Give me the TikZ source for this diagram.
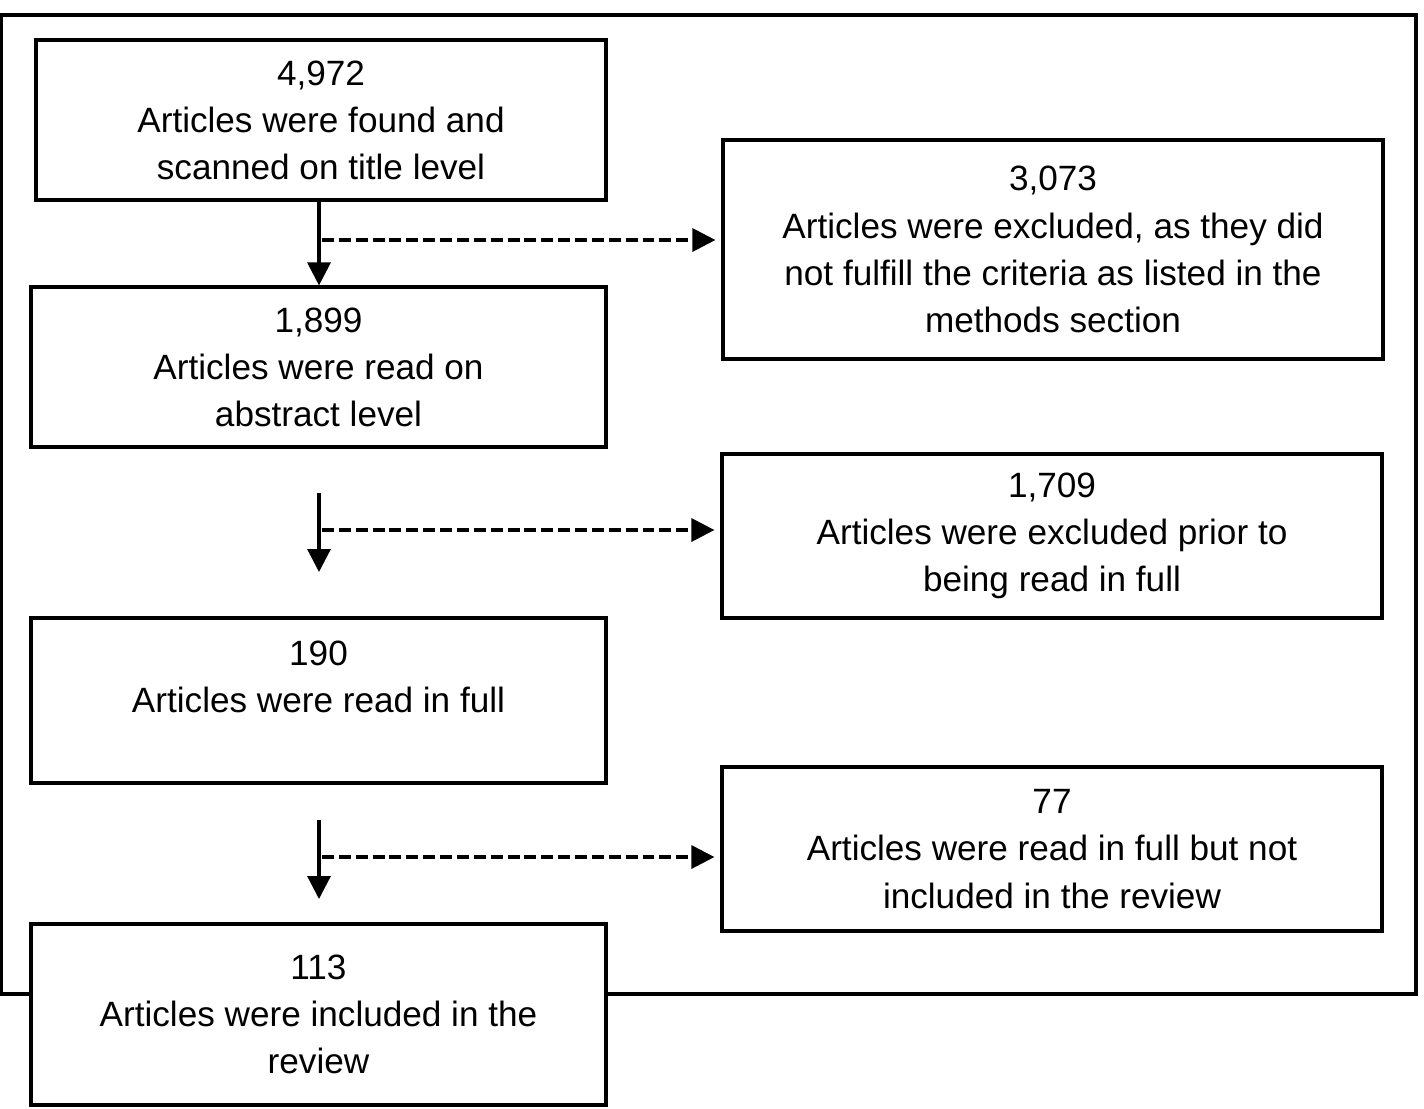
\documentclass[tikz,border=0pt]{standalone}
\usepackage{fontspec}
\setmainfont{Liberation Sans}
\usetikzlibrary{arrows.meta}

\begin{document}
\begin{tikzpicture}[
  box/.style={draw, line width=0.9pt, fill=white, align=center, inner sep=0pt,
    font=\fontsize{10pt}{13.4pt}\selectfont},
  flow/.style={line width=0.9pt, -{Triangle[length=2.3mm, width=2.3mm]}},
  excl/.style={flow, dash pattern=on 3.4pt off 1.4pt, shorten >=0.06cm}
]
\useasboundingbox (0,0) rectangle (14.24,-11.08);

% outer frame
\draw[line width=0.9pt] (0.01,-0.15) rectangle (14.16,-9.94);

\node[box, minimum width=5.70cm, minimum height=1.60cm] at (3.21,-1.20) (found)
  {4,972\\Articles were found and\\scanned on title level};
\node[box, minimum width=6.60cm, minimum height=2.19cm] at (10.53,-2.495) (excl1)
  {3,073\\Articles were excluded, as they did\\not fulfill the criteria as listed in the\\methods section};
\node[box, minimum width=5.75cm, minimum height=1.60cm] at (3.185,-3.67) (abstract)
  {1,899\\Articles were read on\\abstract level};
\node[box, minimum width=6.60cm, minimum height=1.64cm] at (10.52,-5.36) (excl2)
  {1,709\\Articles were excluded prior to\\being read in full};
\node[box, minimum width=5.75cm, minimum height=1.65cm] at (3.185,-7.005) (full)
  {190\\Articles were read in full\\~};
\node[box, minimum width=6.60cm, minimum height=1.64cm] at (10.52,-8.49) (excl3)
  {77\\Articles were read in full but not\\included in the review};
\node[box, minimum width=5.75cm, minimum height=1.81cm] at (3.185,-10.145) (review)
  {113\\Articles were included in the\\review};

\coordinate (s1) at (3.22,-2.40);
\coordinate (t2) at (3.19,-4.93);
\coordinate (h2) at (3.19,-5.72);
\coordinate (s2) at (3.22,-5.30);
\coordinate (t3) at (3.19,-8.20);
\coordinate (h3) at (3.19,-8.99);
\coordinate (s3) at (3.22,-8.57);

\draw[flow] (found.south -| t2) -- (abstract.north -| t2);
\draw[excl] (s1) -- (s1 -| excl1.west);
\draw[flow] (t2) -- (h2);
\draw[excl] (s2) -- (s2 -| excl2.west);
\draw[flow] (t3) -- (h3);
\draw[excl] (s3) -- (s3 -| excl3.west);
\end{tikzpicture}
\end{document}
